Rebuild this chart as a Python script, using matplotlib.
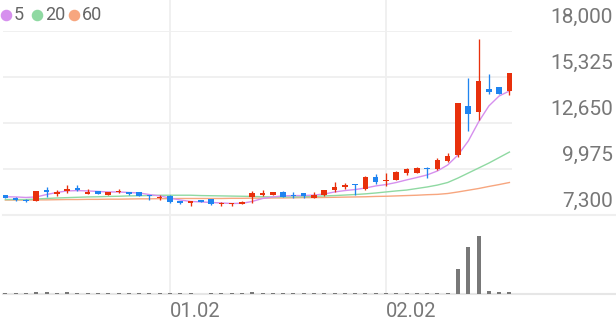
import numpy as np
import matplotlib
matplotlib.use("Agg")
import matplotlib.pyplot as plt
from matplotlib.lines import Line2D

plt.rcParams['font.family'] = ['Roboto', 'DejaVu Sans']

# daily candles (KRW)
opens = [8460, 8290, 8200, 8090, 8750, 8550, 8700, 8870, 8550, 8720,
         8490, 8620, 8610, 8640, 8460, 8270, 8430, 8110, 7970, 8140,
         8230, 7940, 7940, 7970, 8330, 8460, 8460, 8660, 8490, 8560,
         8260, 8460, 8750, 8950, 9100, 8790, 9530, 9260, 9340, 9730,
         9760, 10050, 9960, 10460, 10790, 13640, 13310, 14610, 14760, 14510]
highs = [8490, 8320, 8230, 8700, 8900, 8780, 9040, 9020, 8840, 8720,
         8640, 8840, 8610, 8640, 8460, 8460, 8460, 8140, 8110, 8200,
         8230, 8030, 8000, 8090, 8670, 8750, 8640, 8670, 8610, 8580,
         8610, 8780, 9220, 9140, 9130, 9540, 9680, 9730, 9860, 10050,
         10090, 10090, 10630, 10890, 13810, 15250, 17520, 15500, 14770, 15560]
lows = [8260, 8140, 8060, 8090, 8360, 8410, 8580, 8700, 8520, 8520,
        8490, 8580, 8490, 8410, 8200, 8170, 8000, 7940, 7850, 8060,
        7910, 7850, 7850, 7940, 8000, 8410, 8460, 8350, 8260, 8290,
        8260, 8430, 8660, 8790, 8460, 8750, 9090, 8990, 9310, 9630,
        9740, 9430, 9920, 10380, 10660, 12190, 12820, 14340, 14310, 14260]
closes = [8290, 8170, 8090, 8670, 8640, 8650, 8810, 8750, 8660, 8520,
          8640, 8680, 8520, 8410, 8380, 8330, 8060, 7970, 8090, 8090,
          7940, 8010, 7980, 8020, 8560, 8560, 8610, 8360, 8420, 8410,
          8460, 8750, 8950, 9040, 9020, 9490, 9240, 9340, 9820, 9960,
          10050, 9960, 10500, 10730, 13800, 13170, 15110, 14450, 14320, 15540]

# moving averages as shown on the chart
ma5 = [8360, 8350, 8320, 8350, 8490, 8610, 8700, 8720, 8700, 8670,
       8640, 8640, 8610, 8580, 8490, 8410, 8290, 8170, 8090, 8060,
       8030, 8000, 7970, 7980, 8090, 8260, 8350, 8410, 8430, 8430,
       8460, 8520, 8640, 8720, 8780, 8870, 8990, 9070, 9190, 9340,
       9480, 9630, 9860, 10210, 10790, 11600, 12710, 13640, 14220, 14510]
ma20 = [8200, 8200, 8200, 8230, 8260, 8290, 8310, 8330, 8350, 8360,
        8380, 8390, 8410, 8420, 8430, 8450, 8450, 8450, 8450, 8430,
        8420, 8410, 8400, 8390, 8380, 8360, 8350, 8350, 8350, 8360,
        8380, 8410, 8430, 8460, 8490, 8530, 8580, 8640, 8700, 8750,
        8840, 8930, 9040, 9190, 9450, 9740, 10030, 10320, 10640, 10960]
ma60 = [8170, 8170, 8170, 8180, 8180, 8190, 8200, 8200, 8210, 8210,
        8220, 8220, 8230, 8240, 8240, 8250, 8250, 8260, 8260, 8260,
        8260, 8260, 8270, 8270, 8280, 8280, 8290, 8290, 8300, 8310,
        8310, 8320, 8330, 8340, 8350, 8360, 8380, 8390, 8410, 8430,
        8450, 8480, 8500, 8550, 8640, 8740, 8840, 8960, 9070, 9190]

# volume, thousand shares
volume = [80, 90, 70, 220, 200, 150, 180, 100, 90, 80,
          90, 70, 60, 90, 80, 60, 90, 70, 60, 50,
          70, 60, 60, 70, 160, 90, 80, 90, 80, 70,
          90, 100, 110, 90, 100, 130, 110, 100, 130, 110,
          120, 100, 130, 150, 2500, 4700, 5800, 300, 200, 220]

price_ticks = [7300, 9975, 12650, 15325, 18000]
date_pos = [16, 37]
date_labels = ["01.02", "02.02"]
ma_names = ["5", "20", "60"]

RED = "#e8300c"
BLUE = "#1f84f0"
MA_COLORS = ["#d690ee", "#8fd9a2", "#f7a67f"]
GRID = "#efefef"
TXT = "#777777"

W, H = 616, 321
fig = plt.figure(figsize=(W / 100, H / 100), dpi=100)

step = 10.286
x0 = 5.4
left_px, right_px = 3, 512
xlim = ((left_px - x0) / step, (right_px - x0) / step)

ax = fig.add_axes([left_px / W, (H - 215) / H, (right_px - left_px) / W, 184 / H])
axv = fig.add_axes([left_px / W, (H - 294) / H, (right_px - left_px) / W, 79 / H])

idx = np.arange(len(closes))

# price pane
ax.set_xlim(*xlim)
ax.set_ylim(7300, 18000)
for v in price_ticks[1:]:
    ax.axhline(v, color=GRID, lw=1.3, zorder=0)
ax.axhline(7300, xmin=0, xmax=(W - left_px) / (right_px - left_px), color=GRID,
           lw=1.5, zorder=0, clip_on=False)
for p in date_pos:
    ax.axvline(p, ymin=(215 - 294) / 184, ymax=215 / 184, color=GRID, lw=1.3,
               zorder=0, clip_on=False)

for ma, c in zip([ma60, ma20, ma5], MA_COLORS[::-1]):
    ax.plot(idx, ma, color=c, lw=1.0, zorder=2)

for i in idx:
    o, h, l, c = opens[i], highs[i], lows[i], closes[i]
    col = RED if c >= o else BLUE
    ax.vlines(i, l, h, color=col, lw=0.95, zorder=3)
    body = max(abs(c - o), 70)
    ax.bar(i, body, bottom=min(o, c) - (body - abs(c - o)) / 2, width=0.54,
           color=col, lw=0, zorder=4)

for v in price_ticks:
    ax.annotate(f"{v:,}", xy=(1, v), xycoords=("axes fraction", "data"),
                xytext=(101, 14), textcoords="offset pixels", ha="right",
                va="center", fontsize=15, color=TXT, annotation_clip=False)

ax.set_xticks([])
ax.set_yticks([])
for s in ax.spines.values():
    s.set_visible(False)
ax.patch.set_alpha(0)

# volume pane
axv.set_xlim(*xlim)
axv.set_ylim(0, 7900)
axv.bar(idx, volume, width=0.39, color="#787878", lw=0, zorder=3)
axv.axhline(0, xmin=0, xmax=(W - left_px) / (right_px - left_px), color="#e6e6e6",
            lw=1.5, zorder=2, clip_on=False)
axv.set_yticks([])
axv.set_xticks(date_pos)
axv.set_xticklabels(date_labels, fontsize=14.5, color=TXT, ha="left")
axv.tick_params(axis="x", length=0, pad=6)
for s in axv.spines.values():
    s.set_visible(False)
axv.patch.set_alpha(0)

# legend
leg_x = [6, 37, 74]
for xp, name, c in zip(leg_x, ma_names, MA_COLORS):
    fig.add_artist(Line2D([xp / W], [1 - 15 / H], marker="o", markersize=7.3,
                          color=c, lw=0, transform=fig.transFigure))
    fig.text((xp + 8) / W, 1 - 15 / H, name, fontsize=13, color="#666666",
             ha="left", va="center")

fig.savefig("out.png", dpi=100)
